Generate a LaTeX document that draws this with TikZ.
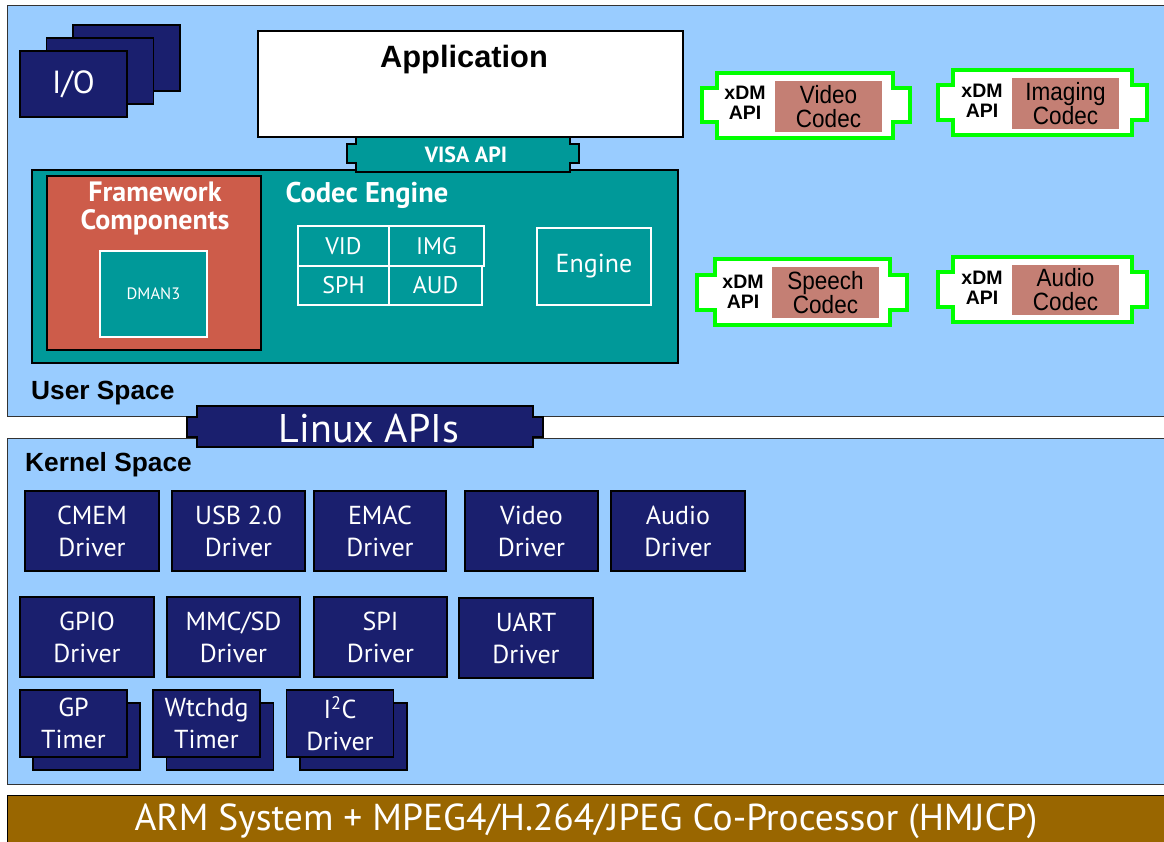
\documentclass[tikz,border=0pt]{standalone}
\usepackage{fontspec}
\setmainfont{PT Sans}
\newfontfamily\arialf{Liberation Sans}
\definecolor{lblue}{RGB}{153,204,255}
\definecolor{navy}{RGB}{26,31,110}
\definecolor{teal2}{RGB}{0,153,153}
\definecolor{fwred}{RGB}{205,92,74}
\definecolor{pinkc}{RGB}{196,127,116}
\definecolor{brgreen}{RGB}{0,255,0}
\definecolor{brown2}{RGB}{153,102,0}
\newcommand\notchshape[9]{%
  \path[#9] (#2,#5) -- (#3,#5) -- (#3,#6) -- (#4,#6) -- (#4,#7) -- (#3,#7) -- (#3,#8) -- (#2,#8) -- (#2,#7) -- (#1,#7) -- (#1,#6) -- (#2,#6) -- cycle;}
\newcommand\cdc[1]{\scalebox{0.9}[1]{#1}}
\begin{document}
\begin{tikzpicture}[x=1pt,y=-1pt,
  navybox/.style={draw=black, fill=navy, line width=1.2pt, inner sep=0pt},
  drv/.style={navybox, text=white, align=center, font=\fontsize{26}{32}\selectfont},
  drvA/.style={drv, minimum width=133pt, minimum height=80pt},
  stackb/.style={drv, minimum width=107pt, minimum height=67pt},
  cell/.style={draw=white, line width=1.3pt, fill=teal2, text=white, inner sep=0pt, font=\fontsize{24}{28}\selectfont},
  xdmtxt/.style={font=\arialf\bfseries\fontsize{19.5}{20}\selectfont, align=center, text=black, inner sep=0pt},
  codec/.style={fill=pinkc, minimum width=107pt, minimum height=51pt, inner sep=0pt, align=center, font=\arialf\fontsize{25}{24}\selectfont},
  greenline/.style={draw=brgreen, line width=4pt, fill=white},
  space/.style={font=\arialf\bfseries\fontsize{26.3}{28}\selectfont, anchor=west, inner sep=0pt}
]
\useasboundingbox (0,0) rectangle (1164,841);
% background regions
\node[draw=black!80, fill=lblue, line width=1.2pt, minimum width=1170pt, minimum height=411pt, anchor=north west, inner sep=0pt] (user) at (7,5) {};
\node[draw=black!80, fill=lblue, line width=1.2pt, minimum width=1170pt, minimum height=346pt, anchor=north west, inner sep=0pt] (kernel) at (7,438) {};
\node[draw=black, fill=brown2, line width=1.2pt, minimum width=1170pt, minimum height=60pt, anchor=north west, inner sep=0pt] (hw) at (7,795) {};
\node[text=white, inner sep=0pt, font=\fontsize{37.5}{40}\selectfont] (hwt) at (586,821) {ARM System + MPEG4/H.264/JPEG Co-Processor (HMJCP)};

% I/O stack
\node[stackb, minimum height=66pt] (io3) at (126.5,58) {};
\node[stackb, minimum height=66pt] (io2) at (100,71) {};
\node[stackb, minimum height=66pt, font=\fontsize{32}{34}\selectfont] (io1) at (73.5,84) {I/O};

% Application
\node[draw=black, fill=white, line width=1.2pt, minimum width=425pt, minimum height=106pt, inner sep=0pt] (app) at (470.5,84) {};
\node[font=\arialf\bfseries\fontsize{30.8}{32}\selectfont, inner sep=0pt] (appt) at (464,60) {Application};

% Codec engine
\node[draw=black, fill=teal2, line width=1.2pt, minimum width=646pt, minimum height=193pt, inner sep=0pt] (ce) at (355,266.5) {};
\node[draw=black, fill=fwred, line width=1.2pt, minimum width=214pt, minimum height=174pt, inner sep=0pt] (fw) at (154,263) {};
\node[text=white, align=center, font=\bfseries\fontsize{28}{28}\selectfont, inner sep=0pt] (fwt) at (155,208) {Framework\\Components};
\node[cell, minimum width=107pt, minimum height=86pt, font=\fontsize{16.5}{18}\selectfont] (dman) at (153.5,294) {DMAN3};
\node[text=white, font=\bfseries\fontsize{28.5}{30}\selectfont, inner sep=0pt] (cet) at (367,195) {Codec Engine};
\node[cell, minimum width=91pt, minimum height=40pt] (vid) at (343.5,246) {VID};
\node[cell, minimum width=95pt, minimum height=40pt] (img) at (436.5,246) {IMG};
\node[cell, minimum width=91pt, minimum height=39pt] (sph) at (343.5,285.5) {SPH};
\node[cell, minimum width=93pt, minimum height=39pt] (aud) at (435.5,285.5) {AUD};
\node[cell, minimum width=114pt, minimum height=77pt, font=\fontsize{26}{28}\selectfont] (eng) at (594,266.5) {Engine};

% VISA API
\notchshape{347}{356}{570}{579}{137}{144}{163}{172}{draw=black, fill=teal2, line width=1.2pt}
\node[text=white, font=\bfseries\fontsize{22}{24}\selectfont, inner sep=0pt] (visa) at (466,155) {VISA API};

% xDM codecs
\notchshape{702}{717}{893}{910}{73}{88}{122}{138}{greenline}
\node[xdmtxt] (x1) at (745,103) {xDM\\API};
\node[codec] (c1) at (828.5,106.5) {\cdc{Video}\\\cdc{Codec}};
\notchshape{938}{953}{1132}{1147}{70}{85}{120}{135}{greenline}
\node[xdmtxt] (x2) at (982,101) {xDM\\API};
\node[codec] (c2) at (1065.5,103.5) {\cdc{Imaging}\\\cdc{Codec}};
\notchshape{697}{715}{890}{907}{259}{275}{310}{325}{greenline}
\node[xdmtxt] (x3) at (743,292) {xDM\\API};
\node[codec] (c3) at (825.5,292.5) {\cdc{Speech}\\\cdc{Codec}};
\notchshape{938}{953}{1132}{1147}{257}{272}{307}{322}{greenline}
\node[xdmtxt] (x4) at (982,288) {xDM\\API};
\node[codec, minimum height=50pt] (c4) at (1065.5,290) {\cdc{Audio}\\\cdc{Codec}};

% labels
\node[space] (us) at (31,393) {User Space};
\node[space] (ks) at (25,465) {Kernel Space};

% Linux APIs
\notchshape{187}{197}{533}{543}{406}{417}{437}{447}{draw=black, fill=navy, line width=1.2pt}
\node[text=white, font=\fontsize{40}{42}\selectfont, inner sep=0pt] (lin) at (369,429) {Linux APIs};

% drivers row 1
\node[drvA, minimum width=134pt] (cmem) at (92,531) {CMEM\\Driver};
\node[drvA] (usb) at (238.5,531) {USB 2.0\\Driver};
\node[drvA, minimum width=132pt] (emac) at (380,531) {EMAC\\Driver};
\node[drvA] (vdrv) at (531.5,531) {Video\\Driver};
\node[drvA, minimum width=134pt] (adrv) at (678,531) {Audio\\Driver};
% row 2
\node[drvA, minimum width=134pt] (gpio) at (87,637) {GPIO\\Driver};
\node[drvA] (mmc) at (233.5,637) {MMC/SD\\Driver};
\node[drvA] (spi) at (380.5,637) {SPI\\Driver};
\node[drvA, minimum width=134pt] (uart) at (526,638) {UART\\Driver};
% row 3
\node[stackb] (gpb) at (86.5,736.5) {};
\node[stackb] (gp) at (73.5,723.5) {GP\\Timer};
\node[stackb] (wdb) at (220,736.5) {};
\node[stackb] (wd) at (206.5,723.5) {Wtchdg\\Timer};
\node[stackb] (i2cb) at (353.5,736.5) {};
\node[stackb] (i2c) at (340,723.5) {I\textsuperscript{2}C\\Driver};
\end{tikzpicture}
\end{document}
